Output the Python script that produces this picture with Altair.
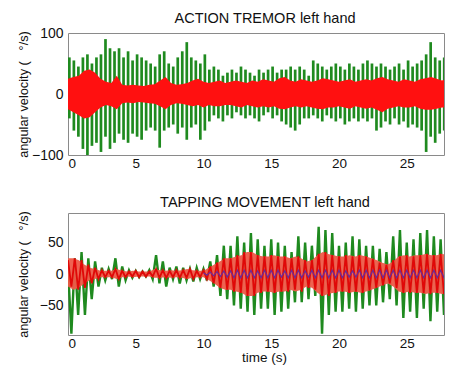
import altair as alt
import pandas as pd

# ---------------- data ----------------
# ACTION TREMOR: green spikes (one spike every 1/3 s), upper and lower tips
green_top_hi = [60, 55, 45, 60, 65, 50,
                60, 65, 90, 75, 70, 75,
                60, 70, 55, 65, 60, 55,
                50, 45, 65, 70, 50, 45,
                60, 70, 85, 60, 55, 50,
                65, 40, 45, 40, 30, 35,
                40, 35, 45, 40, 35, 30,
                40, 35, 40, 45, 35, 40,
                40, 45, 40, 45, 40, 30,
                55, 50, 45, 40, 45, 50,
                45, 40, 50, 45, 40, 50,
                55, 50, 45, 50, 45, 40,
                45, 50, 40, 55, 45, 50,
                55, 65, 85, 60, 55, 60,
                50]
green_top_lo = [-40, -60, -70, -90, -100, -85,
                -80, -95, -70, -90, -80, -65,
                -75, -80, -65, -70, -75, -60,
                -55, -60, -88, -60, -55, -50,
                -65, -55, -75, -55, -50, -75,
                -60, -45, -35, -40, -45, -35,
                -40, -30, -35, -40, -35, -40,
                -45, -35, -30, -40, -35, -45,
                -50, -55, -60, -50, -40, -40,
                -35, -40, -45, -35, -40, -45,
                -40, -50, -45, -40, -45, -40,
                -45, -40, -60, -55, -45, -50,
                -40, -50, -45, -55, -50, -55,
                -60, -95, -70, -80, -65, -60,
                -55]
green_top_step = 1 / 3

# ACTION TREMOR: red band (upper / lower envelope every 0.4 s)
red_top_hi = [25, 28, 30, 38, 40, 35, 25, 20, 18, 30,
              15, 14, 15, 14, 13, 15, 16, 22, 28, 18,
              15, 16, 18, 22, 25, 20, 18, 20, 22, 18,
              20, 22, 20, 18, 22, 20, 24, 22, 20, 26,
              28, 22, 20, 24, 22, 20, 22, 26, 24, 22,
              20, 22, 24, 20, 22, 24, 22, 26, 28, 24,
              22, 20, 24, 22, 20, 24, 26, 28, 25, 22,
              24]
red_top_lo = [-25, -30, -35, -40, -38, -30, -22, -18, -20, -25,
              -15, -14, -15, -13, -14, -15, -16, -20, -25, -18,
              -15, -16, -18, -20, -18, -22, -18, -20, -20, -18,
              -18, -20, -22, -18, -20, -22, -20, -22, -20, -24,
              -25, -22, -20, -22, -20, -22, -24, -25, -22, -22,
              -20, -22, -24, -20, -22, -24, -22, -26, -30, -24,
              -22, -20, -22, -22, -20, -24, -26, -26, -24, -22,
              -22]
red_step = 0.4

# TAPPING MOVEMENT: green signal, successive extrema every 0.25 s
green_bot = [10, -95, 25, -65, 35, -65, 25, -40,
             20, -20, 10, -10, 8, -8, 25, -20,
             12, -10, 6, -6, 5, -5, 4, -4,
             6, -8, 30, -15, 20, -20, 10, -8,
             12, -15, 10, -10, 8, -12, 10, -8,
             8, -10, 20, -20, 30, -35, 45, -40,
             45, -50, 60, -55, 50, -60, 65, -65,
             55, -55, 45, -55, 55, -65, 50, -60,
             45, -55, 35, -45, 60, -45, 50, -40,
             45, -35, 75, -95, 70, -65, 65, -60,
             45, -60, 50, -55, 60, -60, 55, -55,
             45, -50, 45, -50, 40, -45, 35, -40,
             60, -50, 70, -70, 50, -60, 55, -70,
             65, -55, 70, -75, 60, -60, 55, -65,
             60]
bot_step = 0.25

# TAPPING MOVEMENT: red signal, successive extrema every 0.25 s
red_bot = [22, -20, 25, -25, 22, -22, 15, -15,
           10, -8, 6, -5, 5, -5, 8, -8,
           5, -5, 4, -4, 5, -5, 4, -4,
           4, -4, 8, -6, 6, -6, 5, -5,
           6, -6, 6, -6, 8, -8, 5, -5,
           6, -8, 12, -15, 18, -22, 25, -25,
           25, -28, 30, -30, 35, -35, 35, -35,
           30, -30, 28, -28, 30, -30, 28, -28,
           28, -28, 25, -25, 28, -28, 22, -22,
           22, -25, 32, -35, 35, -35, 30, -30,
           28, -28, 30, -30, 28, -28, 30, -30,
           28, -26, 24, -22, 18, -18, 15, -15,
           22, -22, 28, -30, 30, -30, 28, -30,
           30, -30, 32, -32, 30, -30, 32, -32,
           30]

# TAPPING MOVEMENT: red band envelope (every 0.4 s)
red_bot_hi = [25, 25, 22, 15, 10, 8, 5, 5, 5, 8,
              5, 4, 5, 4, 4, 4, 8, 6, 5, 6,
              5, 6, 8, 6, 5, 5, 10, 15, 20, 25,
              25, 28, 30, 35, 35, 30, 28, 28, 30, 28,
              28, 25, 28, 25, 20, 22, 30, 35, 32, 30,
              28, 28, 30, 28, 30, 28, 25, 22, 18, 15,
              20, 28, 30, 28, 30, 30, 32, 30, 30, 32,
              30, 30]
red_bot_lo = [-20, -25, -22, -15, -10, -8, -5, -5, -5, -8,
              -5, -4, -5, -4, -4, -4, -6, -6, -5, -6,
              -5, -6, -8, -6, -5, -5, -10, -15, -22, -25,
              -25, -28, -30, -35, -35, -30, -28, -28, -30, -28,
              -28, -25, -28, -25, -20, -22, -30, -35, -32, -30,
              -28, -28, -30, -28, -30, -28, -25, -22, -18, -15,
              -20, -28, -30, -28, -30, -30, -32, -30, -30, -32,
              -30, -30]

# TAPPING MOVEMENT: small blue signal from 10 s on, extrema every 0.25 s
blue_bot_start = 10
blue_bot = [2, -2, 3, -3, 4, -4, 5, -5, 5, -6, 6, -6, 6, -6, 6, -6, 5, -6, 6, -6,
            6, -6, 6, -5, 5, -6, 6, -6, 6, -6, 5, -5, 6, -6, 6, -6, 6, -6, 6, -6,
            6, -6, 5, -5, 5, -5, 6, -6, 6, -6, 6, -6, 6, -6, 6, -6, 6, -6, 6, -6,
            6, -6, 6, -6, 6, -6, 6, -6, 6, -6, 6, -6, 6]

x_ticks = [0, 5, 10, 15, 20, 25]
y_ticks_top = [-100, -50, 0, 50, 100]
y_ticks_bot = [-50, 0, 50]

# ---------------- tables ----------------
df_gt = pd.DataFrame({
    "t": [0.1 + i * green_top_step for i in range(len(green_top_hi))],
    "lo": green_top_lo, "hi": green_top_hi})
df_rt = pd.DataFrame({
    "t": [i * red_step for i in range(len(red_top_hi))],
    "lo": red_top_lo, "hi": red_top_hi})
df_gb = pd.DataFrame({"t": [i * bot_step for i in range(len(green_bot))], "v": green_bot})
df_rb = pd.DataFrame({"t": [i * bot_step for i in range(len(red_bot))], "v": red_bot})
df_rbe = pd.DataFrame({
    "t": [i * red_step for i in range(len(red_bot_hi))],
    "lo": red_bot_lo, "hi": red_bot_hi})
df_bb = pd.DataFrame({
    "t": [blue_bot_start + i * bot_step for i in range(len(blue_bot))], "v": blue_bot})

FONT = "Liberation Sans"
GREEN = "#1f8a1f"
RED = "#ff1010"
W, H = 376, 122
XDOM = [0, 27.75]
NB = "\u00a0"
YTITLE = "angular velocity (" + NB + NB + " °/s)"

def xenc(title):
    return alt.X("t:Q", scale=alt.Scale(domain=XDOM, nice=False, zero=False),
                 axis=alt.Axis(values=x_ticks, title=title, format="d", titleX=196))

def yaxis(vals):
    return alt.Axis(values=vals, title=YTITLE,
                    titleX=-45, titleY=H / 2, titleAngle=-90,
                    titleBaseline="middle", titleAlign="center", format="d")

ys_top = alt.Scale(domain=[-100, 100], nice=False)
ys_bot = alt.Scale(domain=[-97, 97], nice=False)

g_top = alt.Chart(df_gt).mark_rule(color=GREEN, strokeWidth=2.7, clip=True).encode(
    x=xenc(None), y=alt.Y("lo:Q", scale=ys_top, axis=yaxis(y_ticks_top)), y2="hi:Q")
r_top = alt.Chart(df_rt).mark_area(color=RED, clip=True, opacity=1).encode(
    x=xenc(None), y=alt.Y("lo:Q", scale=ys_top), y2="hi:Q")

TITLE_KW = dict(fontSize=14.5, font=FONT, fontWeight="normal", color="#111",
                offset=0, frame="group", dx=9)

top = alt.layer(g_top, r_top).properties(
    width=W, height=H, title=alt.TitleParams("ACTION TREMOR left hand", **TITLE_KW))

g_bot = alt.Chart(df_gb).mark_line(color=GREEN, strokeWidth=2.4, clip=True).encode(
    x=xenc("time (s)"), y=alt.Y("v:Q", scale=ys_bot, axis=yaxis(y_ticks_bot)))
r_bot_fill = alt.Chart(df_rbe).mark_area(color="#ee5a48", clip=True, opacity=0.95).encode(
    x=xenc("time (s)"), y=alt.Y("lo:Q", scale=ys_bot), y2="hi:Q")
r_bot = alt.Chart(df_rb).mark_line(color="#e00808", strokeWidth=1.8, clip=True).encode(
    x=xenc("time (s)"), y=alt.Y("v:Q", scale=ys_bot))
b_bot = alt.Chart(df_bb).mark_line(color="#6a2a9a", strokeWidth=1.2, clip=True).encode(
    x=xenc("time (s)"), y=alt.Y("v:Q", scale=ys_bot))

bottom = alt.layer(g_bot, r_bot_fill, r_bot, b_bot).properties(
    width=W, height=H, title=alt.TitleParams("TAPPING MOVEMENT left hand", **TITLE_KW))

chart = alt.vconcat(top, bottom, spacing=24).properties(
    padding={"left": 8, "top": 2, "right": 0, "bottom": 0},
    background="white",
).configure_view(
    stroke="#8a8a8a", strokeWidth=1
).configure_axis(
    grid=False, domain=False, ticks=False,
    labelFont=FONT, labelFontSize=14, labelColor="#111", labelPadding=5,
    titleFont=FONT, titleFontSize=12.8, titleColor="#111", titleFontWeight="normal",
).configure_axisX(titlePadding=1, titleFontSize=13.5, labelFontSize=13.5, labelPadding=1)

chart.save("out.html", embed_options={"renderer": "svg", "actions": False})
